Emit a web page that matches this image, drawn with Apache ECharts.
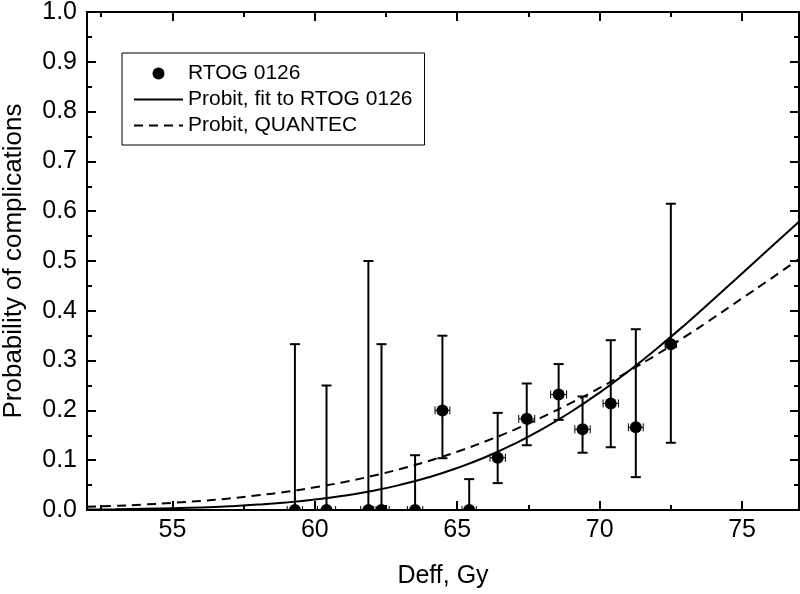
<!DOCTYPE html>
<html><head><meta charset="utf-8">
<script src="https://cdn.jsdelivr.net/npm/echarts@6/dist/echarts.min.js"></script>
<style>html,body{margin:0;padding:0;background:#fff}#c{width:800px;height:594px}</style>
</head><body><div id="c"></div>
<script>
// RTOG 0126 observed points
const dose     = [59.30, 60.41, 61.88, 62.34, 63.52, 64.48, 65.42, 66.42, 67.44, 68.56, 69.40, 70.39, 71.27, 72.50];
const prob     = [0, 0, 0, 0, 0, 0.200, 0, 0.105, 0.183, 0.232, 0.162, 0.214, 0.166, 0.333];
const errLow   = [0, 0, 0, 0, 0, 0.104, 0, 0.054, 0.130, 0.181, 0.115, 0.126, 0.066, 0.135];
const errHigh  = [0.333, 0.250, 0.500, 0.333, 0.110, 0.350, 0.062, 0.195, 0.254, 0.293, 0.228, 0.341, 0.363, 0.615];
const doseErr  = [0.27, 0.32, 0.27, 0.27, 0.27, 0.26, 0.25, 0.27, 0.28, 0.28, 0.27, 0.27, 0.26, 0.20];

// curves
const curveDose     = [52,53,54,55,56,57,58,59,60,61,62,63,64,65,66,67,68,69,70,71,72,73,74,75,76,77];
const probitFit     = [0.001,0.0016,0.0024,0.0036,0.0052,0.0076,0.0108,0.0152,0.021,0.0285,0.0383,0.0505,0.0657,0.0843,0.1064,0.1326,0.1628,0.1973,0.2358,0.2781,0.3238,0.3722,0.423,0.475,0.527,0.579];
const probitQuantec = [0.0064,0.0084,0.011,0.0143,0.0183,0.0233,0.0294,0.0367,0.0455,0.0559,0.0681,0.0823,0.0985,0.117,0.138,0.161,0.187,0.215,0.245,0.278,0.312,0.348,0.386,0.425,0.464,0.504];

// axis ticks
const xMajorTicks = [55, 60, 65, 70, 75];
const xMinorTicks = [52.5, 57.5, 62.5, 67.5, 72.5];
const seriesNames = ['RTOG 0126', 'Probit, fit to RTOG 0126', 'Probit, QUANTEC'];

const FONT = '"Liberation Sans", Arial, sans-serif';
const chart = echarts.init(document.getElementById('c'), null, {renderer: 'canvas'});

function xAxisDef(position, values, len, showLabel, extra) {
  return Object.assign({
    type: 'value', min: 52, max: 77, position: position, gridIndex: 0,
    axisLine: {show: true, onZero: false, lineStyle: {color: '#000', width: 2}},
    axisTick: {show: true, inside: true, length: len, customValues: values, lineStyle: {color: '#000', width: 2}},
    axisLabel: {show: showLabel, customValues: values, color: '#000', fontFamily: FONT, fontSize: 25, margin: 8},
    splitLine: {show: false}
  }, extra || {});
}
function yAxisDef(position, showLabel, extra) {
  return Object.assign({
    type: 'value', min: 0, max: 1, interval: 0.1, position: position, gridIndex: 0,
    axisLine: {show: true, onZero: false, lineStyle: {color: '#000', width: 2}},
    axisTick: {show: true, inside: true, length: 9, lineStyle: {color: '#000', width: 2}},
    minorTick: {show: true, splitNumber: 2, length: 5, lineStyle: {color: '#000', width: 2}},
    axisLabel: {show: showLabel, color: '#000', fontFamily: FONT, fontSize: 25, margin: 10,
      formatter: function (v) { return v.toFixed(1); }},
    splitLine: {show: false}, minorSplitLine: {show: false}
  }, extra || {});
}

const pointData = dose.map(function (d, i) { return [d, prob[i], errLow[i], errHigh[i], doseErr[i]]; });

chart.setOption({
  animation: false,
  backgroundColor: '#fff',
  grid: {left: 87, right: 1, top: 12, bottom: 84, containLabel: false, outerBoundsMode: 'none'},
  xAxis: [
    xAxisDef('bottom', xMajorTicks, 9, true, {
      name: 'Deff, Gy', nameLocation: 'middle', nameGap: 54,
      nameTextStyle: {color: '#000', fontFamily: FONT, fontSize: 25}
    }),
    xAxisDef('bottom', xMinorTicks, 5, false),
    xAxisDef('top', xMajorTicks, 9, false),
    xAxisDef('top', xMinorTicks, 5, false)
  ],
  yAxis: [
    yAxisDef('left', true, {
      name: 'Probability of complications', nameLocation: 'middle', nameGap: 60,
      nameTextStyle: {color: '#000', fontFamily: FONT, fontSize: 26}
    }),
    yAxisDef('right', false)
  ],
  legend: {
    orient: 'vertical', left: 122, top: 53,
    backgroundColor: '#fff', borderColor: '#000', borderWidth: 1, borderRadius: 0,
    padding: [10, 12, 9, 11], itemWidth: 49, itemHeight: 12, itemGap: 5,
    textStyle: {color: '#000', fontFamily: FONT, fontSize: 21, lineHeight: 21},
    data: [
      {name: seriesNames[0], icon: 'circle', itemStyle: {color: '#000'}},
      {name: seriesNames[1], itemStyle: {opacity: 0}},
      {name: seriesNames[2], itemStyle: {opacity: 0}}
    ]
  },
  series: [
    {
      name: seriesNames[2], type: 'line', smooth: true, symbol: 'none', showSymbol: false,
      data: curveDose.map(function (d, i) { return [d, probitQuantec[i]]; }),
      lineStyle: {color: '#000', width: 2, type: [9, 6]}, itemStyle: {color: '#000'}, z: 2
    },
    {
      name: seriesNames[1], type: 'line', smooth: true, symbol: 'none', showSymbol: false,
      data: curveDose.map(function (d, i) { return [d, probitFit[i]]; }),
      lineStyle: {color: '#000', width: 2, type: 'solid'}, itemStyle: {color: '#000'}, z: 2
    },
    {
      name: seriesNames[0], type: 'custom', clip: true, z: 3,
      itemStyle: {color: '#000'},
      encode: {x: 0, y: 1},
      data: pointData,
      renderItem: function (params, api) {
        const x = api.value(0), y = api.value(1), lo = api.value(2), hi = api.value(3), xe = api.value(4);
        const pLo = api.coord([x, lo]), pHi = api.coord([x, hi]), pC = api.coord([x, y]);
        const pL = api.coord([x - xe, y]), pR = api.coord([x + xe, y]);
        const cap = 5, hcap = 4;
        const st = {stroke: '#000', lineWidth: 2};
        const hs = {stroke: '#000', lineWidth: 1};
        return {type: 'group', children: [
          {type: 'line', shape: {x1: pLo[0], y1: pLo[1], x2: pHi[0], y2: pHi[1]}, style: st},
          {type: 'line', shape: {x1: pHi[0] - cap, y1: pHi[1], x2: pHi[0] + cap, y2: pHi[1]}, style: st},
          {type: 'line', shape: {x1: pLo[0] - cap, y1: pLo[1], x2: pLo[0] + cap, y2: pLo[1]}, style: st},
          {type: 'line', shape: {x1: pL[0], y1: pL[1], x2: pR[0], y2: pR[1]}, style: hs},
          {type: 'line', shape: {x1: pL[0], y1: pL[1] - hcap, x2: pL[0], y2: pL[1] + hcap}, style: hs},
          {type: 'line', shape: {x1: pR[0], y1: pR[1] - hcap, x2: pR[0], y2: pR[1] + hcap}, style: hs},
          {type: 'circle', shape: {cx: pC[0], cy: pC[1], r: 6}, style: {fill: '#000'}}
        ]};
      }
    }
  ]
});
</script>
</body></html>
